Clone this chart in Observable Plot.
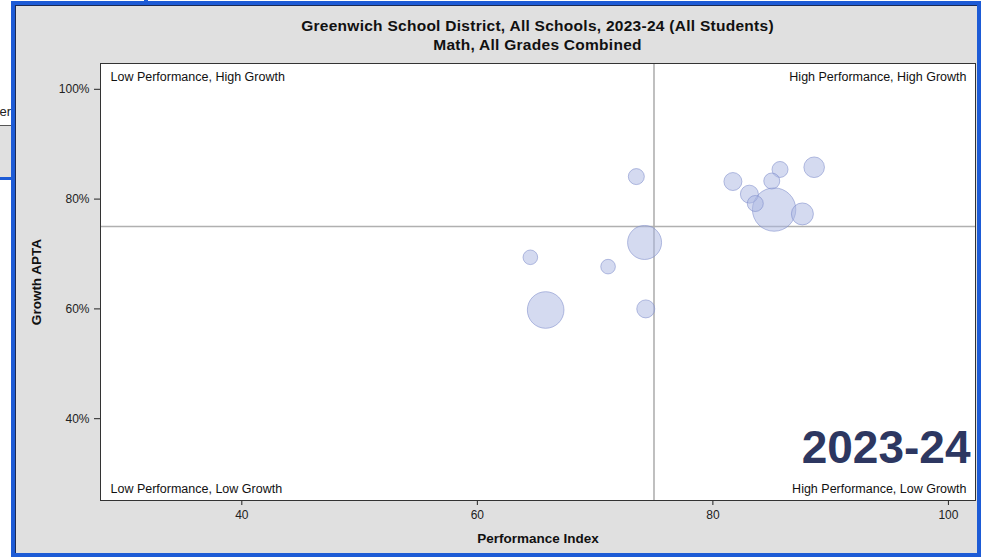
<!DOCTYPE html>
<html>
<head>
<meta charset="utf-8">
<script src="https://cdn.jsdelivr.net/npm/d3@7"></script>
<script src="https://cdn.jsdelivr.net/npm/@observablehq/plot@0.6"></script>
<style>
  html, body { margin: 0; padding: 0; background: #ffffff; }
  #wrap { position: relative; width: 981px; height: 557px; overflow: hidden; font-family: "Liberation Sans", Arial, sans-serif; }
  #panel { position: absolute; left: 11px; top: 1px; width: 970px; height: 556px; background: #e0e0e0; box-sizing: border-box; border: 4px solid #1d5bd6; }
  #panelInner { position: absolute; left: 0; top: 0; right: 0; bottom: 0; border-left: 1px solid #1a2a55; border-top: 1px solid #1a2a55; }
  #title { position: absolute; left: 100px; width: 875px; top: 17px; text-align: center; font-weight: bold; font-size: 15.5px; letter-spacing: 0.27px; line-height: 18.5px; color: #111; }
  #chart { position: absolute; left: 0; top: 0; }
  .art { position: absolute; }
</style>
</head>
<body>
<div id="wrap">
  <div class="art" style="left:0;top:98px;width:11px;height:27px;background:#fff;border-bottom:1px solid #555;overflow:hidden;">
    <div style="position:absolute;right:0;top:6px;font-size:13px;color:#222;">er</div>
  </div>
  <div class="art" style="left:0;top:126px;width:11px;height:51px;background:#e0e0e0;"></div>
  <div class="art" style="left:0;top:177px;width:12px;height:3px;background:#1d5bd6;"></div>
  <div class="art" style="left:144px;top:0;width:4px;height:2px;background:#1d5bd6;"></div>
  <div id="panel"><div id="panelInner"></div></div>
  <div id="title">Greenwich School District, All Schools, 2023-24 (All Students)<br>Math, All Grades Combined</div>
  <div id="chart"></div>
</div>
<script>
// Data
const performanceIndex = [73.5, 81.7, 85.7, 88.6, 85.0, 83.1, 83.6, 85.2, 87.6, 74.2, 64.5, 71.1, 65.8, 74.3];
const growthAPTA       = [84.1, 83.2, 85.4, 85.8, 83.3, 80.9, 79.2, 78.1, 77.3, 72.1, 69.4, 67.7, 59.8, 60.0];
const studentCount     = [367, 464, 367, 608, 367, 464, 367, 2700, 694, 1657, 306, 306, 1920, 464];
const xTicks = [40, 60, 80, 100];
const yTicks = [40, 60, 80, 100];
const thresholdX = [75];
const thresholdY = [75];
const quadrantTopLeft = ["Low Performance, High Growth"];
const quadrantTopRight = ["High Performance, High Growth"];
const quadrantBottomLeft = ["Low Performance, Low Growth"];
const quadrantBottomRight = ["High Performance, Low Growth"];
const yearLabel = ["2023-24"];
const xLabel = ["Performance Index"];
const yLabel = ["Growth APTA"];

const schools = performanceIndex.map((p, i) => ({pi: p, g: growthAPTA[i], n: studentCount[i]}));

const chart = Plot.plot({
  width: 981,
  height: 557,
  marginLeft: 100,
  marginRight: 6,
  marginTop: 63,
  marginBottom: 57,
  style: {
    fontFamily: '"Liberation Sans", Arial, sans-serif',
    fontSize: "12px",
    color: "#222",
    background: "transparent",
    overflow: "visible"
  },
  x: {domain: [28, 102.3], ticks: xTicks, label: null, tickSize: 5, tickPadding: 5},
  y: {domain: [25.1, 104.7], ticks: yTicks, tickFormat: d => d + "%", label: null, tickSize: 6, tickPadding: 5},
  r: {type: "sqrt", domain: [0, 2700], range: [0, 21.7]},
  marks: [
    Plot.frame({fill: "white", stroke: null}),
    Plot.ruleX(thresholdX, {stroke: "#b0b0b0", strokeWidth: 1.6}),
    Plot.ruleY(thresholdY, {stroke: "#b0b0b0", strokeWidth: 1.6}),
    Plot.dot(schools, {x: "pi", y: "g", r: "n", fill: "#aab6e2", fillOpacity: 0.5, stroke: "#7c8acb", strokeOpacity: 0.55, strokeWidth: 1}),
    Plot.frame({stroke: "#333", strokeWidth: 1}),
    Plot.text(quadrantTopLeft, {frameAnchor: "top-left", textAnchor: "start", lineAnchor: "middle", dx: 10, dy: 13, fontSize: 12.5, fill: "#111"}),
    Plot.text(quadrantTopRight, {frameAnchor: "top-right", textAnchor: "end", lineAnchor: "middle", dx: -9, dy: 13, fontSize: 12.5, fill: "#111"}),
    Plot.text(quadrantBottomLeft, {frameAnchor: "bottom-left", textAnchor: "start", lineAnchor: "middle", dx: 10, dy: -12, fontSize: 12.5, fill: "#111"}),
    Plot.text(quadrantBottomRight, {frameAnchor: "bottom-right", textAnchor: "end", lineAnchor: "middle", dx: -9, dy: -12, fontSize: 12.5, fill: "#111"}),
    Plot.text(yearLabel, {frameAnchor: "bottom-right", textAnchor: "end", lineAnchor: "middle", dx: -5, dy: -52, fontSize: 46, fontWeight: "bold", fill: "#2d3761"}),
    Plot.text(xLabel, {frameAnchor: "bottom", textAnchor: "middle", lineAnchor: "middle", dy: 38, fontSize: 13.5, fontWeight: "bold", fill: "#111"}),
    Plot.text(yLabel, {frameAnchor: "left", textAnchor: "middle", lineAnchor: "middle", dx: -64, rotate: -90, fontSize: 13.5, fontWeight: "bold", fill: "#111"})
  ]
});
document.getElementById("chart").appendChild(chart);
</script>
</body>
</html>
